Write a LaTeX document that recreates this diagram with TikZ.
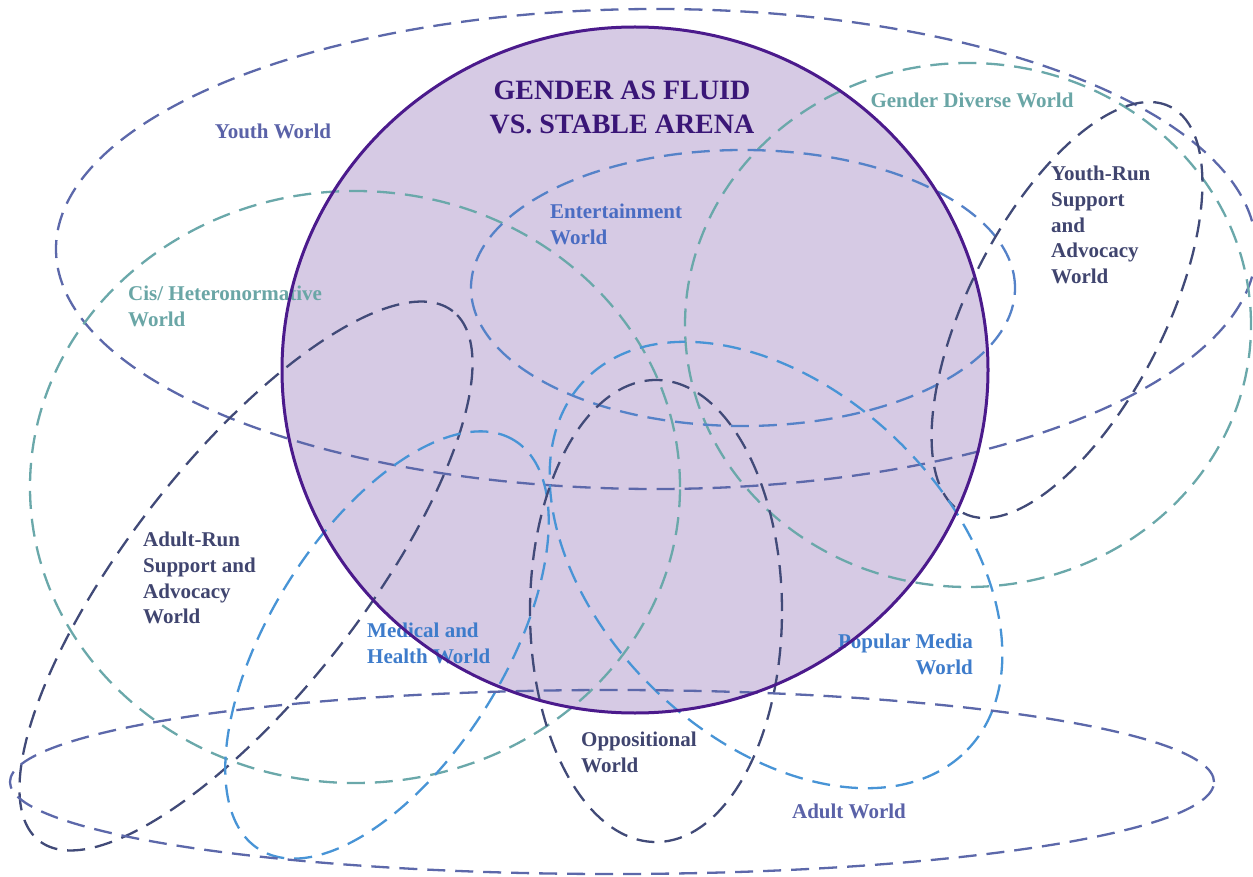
\documentclass[tikz,border=0pt]{standalone}
\usepackage{fontspec}
\setmainfont{Liberation Serif}
\usepackage{xcolor}
\usepackage{tikz}
\definecolor{arenafill}{HTML}{D6CAE4}
\definecolor{arenaline}{HTML}{4B1A8C}
\definecolor{titlecol}{HTML}{3A1677}
\definecolor{youthcol}{HTML}{5C68AA}
\definecolor{tealcol}{HTML}{6AA8AA}
\definecolor{navycol}{HTML}{414A78}
\definecolor{entcol}{HTML}{5582C8}
\definecolor{medcol}{HTML}{4894D6}
\definecolor{youthlbl}{HTML}{5A62A8}
\definecolor{teallbl}{HTML}{6AA6A6}
\definecolor{navylbl}{HTML}{40456F}
\definecolor{entlbl}{HTML}{4A6CC2}
\definecolor{medlbl}{HTML}{3E7CCB}

\begin{document}
\begin{tikzpicture}[x=1pt,y=1pt,
  world/.style={line width=2.3pt,dash pattern=on 18pt off 10pt},
  lbl/.style={font=\fontsize{21}{25.7}\selectfont\bfseries,inner sep=0pt,align=left}]
  \fill[white] (0,0) rectangle (1253,-877);
  \useasboundingbox (0,0) rectangle (1253,-877);
  \fill[arenafill] (635,-370) ellipse [x radius=353, y radius=343];
  \draw[world,youthcol] (656,-249) ellipse [x radius=600, y radius=240];
  \draw[world,tealcol] (355,-487) ellipse [x radius=325, y radius=296];
  \draw[world,tealcol] (968,-325) ellipse [x radius=283, y radius=262];
  \draw[world,entcol] (743,-288) ellipse [x radius=272, y radius=138];
  \draw[world,navycol] (1067,-310) ellipse [x radius=228, y radius=98, rotate=63];
  \draw[world,navycol] (246,-576) ellipse [x radius=336, y radius=117, rotate=52];
  \draw[world,medcol] (387,-645) ellipse [x radius=241, y radius=117, rotate=58];
  \draw[world,medcol] (776,-565) ellipse [x radius=266, y radius=174, rotate=-44];
  \draw[world,navycol] (656,-611) ellipse [x radius=126, y radius=231];
  \draw[world,youthcol] (612,-782) ellipse [x radius=602, y radius=92];
  \node[titlecol,font=\fontsize{28}{34}\selectfont\bfseries,align=center] (arena) at (622,-107) {GENDER AS FLUID\\VS. STABLE ARENA};
  \node[lbl,youthlbl] (youth) at (273,-131) {Youth World};
  \node[lbl,teallbl] (diverse) at (972,-100) {Gender Diverse World};
  \node[lbl,navylbl,anchor=north west] (youthrun) at (1051,-166) {Youth-Run\\Support\\and\\Advocacy\\World};
  \node[lbl,entlbl,anchor=north west] (enter) at (550,-204) {Entertainment\\World};
  \node[lbl,teallbl,anchor=north west] (cis) at (128,-286) {Cis/ Heteronormative\\World};
  \node[lbl,navylbl,anchor=north west] (adultrun) at (143,-532) {Adult-Run\\Support and\\Advocacy\\World};
  \node[lbl,medlbl,anchor=north west] (medical) at (367,-623) {Medical and\\Health World};
  \node[lbl,medlbl,anchor=north east,align=right] (media) at (973,-634) {Popular Media\\World};
  \node[lbl,navylbl,anchor=north west] (oppo) at (581,-732) {Oppositional\\World};
  \node[lbl,youthlbl] (adult) at (849,-811) {Adult World};
  \draw[arenaline,line width=3pt] (635,-370) ellipse [x radius=353, y radius=343];
\end{tikzpicture}
\end{document}
